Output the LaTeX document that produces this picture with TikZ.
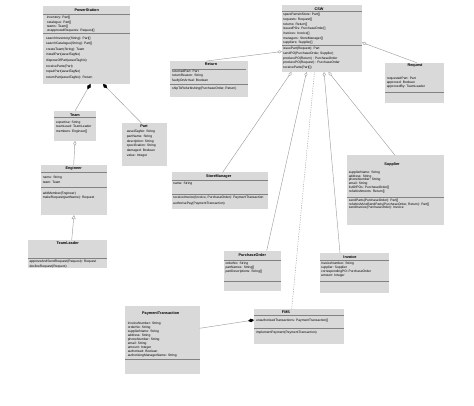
\documentclass[tikz,border=0pt]{standalone}
\usepackage{fontspec}
\setmainfont{Liberation Sans}
\usetikzlibrary{arrows.meta}
\definecolor{boxfill}{RGB}{217,217,217}
\definecolor{sepc}{RGB}{130,130,130}
\definecolor{linec}{RGB}{160,160,160}
\tikzset{
  cls/.style={fill=boxfill, draw=none, inner sep=0pt, outer sep=0pt, anchor=north west},
  ttl/.style={font=\bfseries\fontsize{3.8}{4.5}\selectfont, inner sep=0pt},
  txt/.style={font=\fontsize{3.3}{#1}\selectfont, inner sep=0pt, anchor=north west, align=left},
  sepline/.style={draw=sepc, line width=0.45pt},
  conn/.style={draw=linec, line width=0.45pt},
  comp/.style={conn, -{Diamond[length=6pt,width=3.6pt,fill=black,color=black]}},
  agg/.style={conn, -{Diamond[open,length=5pt,width=3pt,color=linec]}},
  gen/.style={conn, -{Triangle[open,length=4pt,width=4pt,color=linec]}},
  dep/.style={conn, dashed, dash pattern=on 1.2pt off 1.2pt}
}
\begin{document}
\begin{tikzpicture}[x=1pt,y=-1pt]
\fill[white] (0,0) rectangle (474,406);
\useasboundingbox (0,0) rectangle (474,406);

% ---------- PowerStation
\node[cls, minimum width=86.5pt, minimum height=78pt] (ps) at (43,6) {};
\node[ttl] (psT) at (86.7,9.7) {PowerStation};
\draw[sepline] (43,14) -- (129.5,14);
\node[txt=4.3pt] (psA) at (46.7,16.3) {inventory: Part[]\\catalogue: Part[]\\teams: Team[]\\unapprovedRequests: Request[]};
\draw[sepline] (43,33.3) -- (129.5,33.3);
\node[txt=5.6pt] (psM) at (46,36.6) {searchInventory(String): Part[]\\searchCatalogue(String): Part[]\\createTeam(String): Team\\installPart(assetTagNo)\\disposeOfPart(assetTagNo)\\receiveParts(Part)\\repairPart(assetTagNo)\\returnPart(assetTagNo): Return};

% ---------- CSW
\node[cls, minimum width=80pt, minimum height=66.5pt] (csw) at (282,5.5) {};
\node[ttl] (cswT) at (319,9.3) {CSW};
\draw[sepline] (282,11.7) -- (362,11.7);
\node[txt=4.67pt] (cswA) at (283,13.3) {sparePartsInStore: Part[]\\requests: Request[]\\returns: Return[]\\issuedPOs: PurchaseOrder[]\\invoices: Invoice[]\\managers: StoreManager[]\\suppliers: Supplier[]};
\draw[sepline] (282,45.7) -- (362,45.7);
\node[txt=4.6pt] (cswM) at (283,47.3) {issuePart(Request): Part\\sendPO(PurchaseOrder, Supplier)\\producePO(Return) : PurchaseOrder\\producePO(Request) : PurchaseOrder\\receiveParts(Part[])};

% ---------- Return
\node[cls, minimum width=78.3pt, minimum height=36.3pt] (ret) at (170,61) {};
\node[ttl] (retT) at (211,64.3) {Return};
\draw[sepline] (172,69) -- (246,69);
\node[txt=4.35pt] (retA) at (172,69.9) {returnedPart: Part\\returnReason: String\\faultyOnArrival: Boolean};
\draw[sepline] (170,84) -- (248.3,84);
\node[txt=4.4pt] (retM) at (172,86.9) {shipToRefurbishing(PurchaseOrder, Return)};

% ---------- Request
\node[cls, minimum width=59.3pt, minimum height=40pt] (req) at (385,62.7) {};
\node[ttl] (reqT) at (415,66) {Request};
\node[txt=4pt] (reqA) at (386.7,77.3) {requestedPart: Part\\approved: Boolean\\approvedBy: TeamLeader};
\draw[sepline] (385,92.3) -- (444.3,92.3);

% ---------- Team
\node[cls, minimum width=42pt, minimum height=30pt] (team) at (54,111) {};
\node[ttl] (teamT) at (75,115) {Team};
\draw[sepline] (54,117.5) -- (96,117.5);
\node[txt=4.35pt] (teamA) at (56,120.9) {expertise: String\\teamLead: TeamLeader\\members: Engineer[]};

% ---------- Part
\node[cls, minimum width=45.3pt, minimum height=42.7pt] (part) at (122,123.3) {};
\node[ttl] (partT) at (144,126.3) {Part};
\node[txt=4.66pt] (partA) at (126.7,130.3) {assetTagNo: String\\partName: String\\description: String\\specification: String\\damaged: Boolean\\value: Integer};

% ---------- Engineer
\node[cls, minimum width=66.3pt, minimum height=50pt] (eng) at (41,165) {};
\node[ttl] (engT) at (73.7,168.7) {Engineer};
\draw[sepline] (41,172.7) -- (107.3,172.7);
\node[txt=4.7pt] (engA) at (42.7,175.9) {name: String\\team: Team};
\draw[sepline] (41,187.7) -- (107.3,187.7);
\node[txt=4.4pt] (engM) at (42.7,191.9) {addMember(Engineer)\\makeRequest(partName): Request};

% ---------- TeamLeader
\node[cls, minimum width=79pt, minimum height=28.3pt] (tl) at (27.7,240) {};
\node[ttl] (tlT) at (67.7,243.3) {TeamLeader};
\draw[sepline] (27.7,258.3) -- (106.7,258.3);
\node[txt=4.7pt] (tlM) at (29.3,259.9) {approveAndSendRequest(Request): Request\\declineRequest(Request)};

% ---------- StoreManager
\node[cls, minimum width=96.6pt, minimum height=36.7pt] (sm) at (171.7,172.3) {};
\node[ttl] (smT) at (218.7,176.7) {StoreManager};
\draw[sepline] (171.7,180.3) -- (268.3,180.3);
\node[txt=4.4pt] (smA) at (173,182.3) {name: String};
\draw[sepline] (171.7,194.3) -- (268.3,194.3);
\node[txt=5.7pt] (smM) at (173,195.9) {receiveInvoice(Invoice, PurchaseOrder): PaymentTransaction\\authorisePay(PaymentTransaction)};

% ---------- Supplier
\node[cls, minimum width=97pt, minimum height=70pt] (sup) at (347.3,155.3) {};
\node[ttl] (supT) at (392,164.3) {Supplier};
\node[txt=3.87pt] (supA) at (348.7,170.6) {supplierName: String\\address: String\\phoneNumber: String\\email: String\\listOfPOs: PurchaseOrder[]\\refurbishments: Return[]};
\draw[sepline] (347.3,197.3) -- (444.3,197.3);
\node[txt=3.7pt] (supM) at (348.7,198.9) {sendParts(PurchaseOrder): Part[]\\refurbishAndSendParts(PurchaseOrder, Return): Part[]\\sendInvoice(PurchaseOrder): Invoice};

% ---------- PurchaseOrder
\node[cls, minimum width=56.7pt, minimum height=40pt] (po) at (224,250.7) {};
\node[ttl] (poT) at (252.3,255.3) {PurchaseOrder};
\draw[sepline] (224,260) -- (280.7,260);
\node[txt=4pt] (poA) at (225.3,262.3) {orderNo: String\\partNames: String[]\\partDescriptions: String[]};
\draw[sepline] (224,281) -- (280.7,281);

% ---------- Invoice
\node[cls, minimum width=69.6pt, minimum height=40pt] (inv) at (319.7,253.3) {};
\node[ttl] (invT) at (350,257.3) {Invoice};
\draw[sepline] (319.7,260.3) -- (389.3,260.3);
\node[txt=4.1pt] (invA) at (321,261.9) {invoiceNumber: String\\supplier: Supplier\\correspondingPO: PurchaseOrder\\amount: Integer};
\draw[sepline] (319.7,281.7) -- (389.3,281.7);

% ---------- PaymentTransaction
\node[cls, minimum width=74.4pt, minimum height=68pt] (pt) at (125.3,306) {};
\node[ttl] (ptT) at (160.7,314) {PaymentTransaction};
\node[txt=4.04pt] (ptA) at (127.7,321.6) {invoiceNumber: String\\orderNo: String\\supplierName: String\\address: String\\phoneNumber: String\\email: String\\amount: Integer\\authorised: Boolean\\authorisingManagerName: String};
\draw[sepline] (125.3,359) -- (199.7,359);

% ---------- FMS
\node[cls, minimum width=89.7pt, minimum height=35pt] (fms) at (254,309) {};
\node[ttl] (fmsT) at (286,312.3) {FMS};
\draw[sepline] (254,315) -- (343.7,315);
\node[txt=4.4pt] (fmsA) at (256,318.9) {unauthorisedTransactions: PaymentTransaction[]};
\draw[sepline] (254,328.3) -- (343.7,328.3);
\node[txt=4.4pt] (fmsM) at (256,330.9) {implementPayment(PaymentTransaction)};

% ---------- connector end points
\coordinate (psL) at (90.5,84);
\coordinate (psR) at (103,84);
\coordinate (teamB) at (75,141);
\coordinate (engB) at (74,215);
\coordinate (tlTop) at (71.7,240);
\coordinate (engTop) at (73.7,165);
\coordinate (partTop) at (141.7,123.3);
\coordinate (cswL) at (282,51.5);
\coordinate (cswR) at (362,42.5);
\coordinate (cswB1) at (291.5,72);
\coordinate (cswB2) at (306.5,72);
\coordinate (cswB3) at (314.5,72);
\coordinate (cswB4) at (324,72);
\coordinate (cswB5) at (328.5,72);
\coordinate (retTop) at (206.7,61);
\coordinate (reqTop) at (416.7,62.7);
\coordinate (smTop) at (222.7,172.3);
\coordinate (poTop) at (266.7,250.7);
\coordinate (fmsTop) at (291.7,309);
\coordinate (invTop) at (340,253.3);
\coordinate (supTop) at (395,155.3);
\coordinate (ptR) at (199.7,328.3);
\coordinate (fmsL) at (254,320);

% ---------- connectors
\draw[comp] (team.north) -- (psL);
\draw[comp] (partTop) -- (psR);
\draw[agg] (engTop) -- (teamB);
\draw[gen] (tlTop) -- (engB);
\draw[agg] (retTop) -- (cswL);
\draw[agg] (reqTop) -- (cswR);
\draw[agg] (smTop) -- (cswB1);
\draw[agg] (poTop) -- (cswB2);
\draw[dep] (fmsTop) -- (cswB3);
\draw[agg] (invTop) -- (cswB4);
\draw[agg] (supTop) -- (cswB5);
\draw[comp] (ptR) -- (fmsL);
\end{tikzpicture}
\end{document}
